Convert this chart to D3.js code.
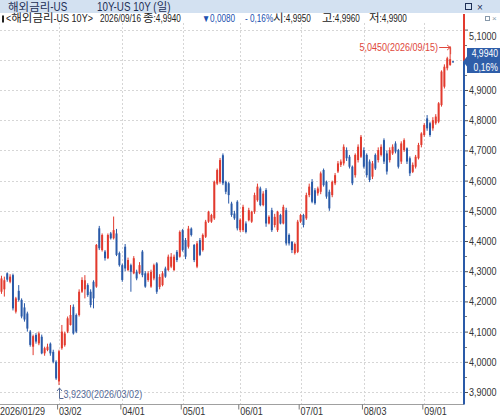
<!DOCTYPE html>
<html>
<head>
<meta charset="utf-8">
<script src="https://cdn.jsdelivr.net/npm/d3@7/dist/d3.min.js"></script>
<style>
  body { margin: 0; background: #fff; }
  svg text { font-family: "Liberation Sans", "Noto Sans CJK KR", sans-serif; }
</style>
</head>
<body>
<svg id="chart"></svg>
<script>
// ########## Data ##########

startDate = "2026-01-29";
endDate = "2026-09-16";
holidays = ["2026-02-16", "2026-04-03", "2026-05-25", "2026-06-19", "2026-07-03", "2026-09-07"];

tickDates = ["2026-03-02", "2026-04-01", "2026-05-01", "2026-06-01", "2026-07-01", "2026-08-03", "2026-09-01"];
tickLabels = ["03/02", "04/01", "05/01", "06/01", "07/01", "08/03", "09/01"];
firstLabel = "2026/01/29";

yTicks = [3.9, 4.0, 4.1, 4.2, 4.3, 4.4, 4.5, 4.6, 4.7, 4.8, 4.9, 5.0, 5.1];

opens = [
  4.24, 4.232, 4.24, 4.293, 4.265, 4.287, 4.166, 4.235, 4.205, 4.18,
  4.16, 4.10, 4.05, 4.089, 4.061, 4.083, 4.028, 4.039, 4.06, 4.033,
  4.00, 3.935, 4.045, 4.055, 4.10, 4.122, 4.182, 4.155, 4.155, 4.232,
  4.24, 4.254, 4.232, 4.265, 4.249, 4.442, 4.37, 4.365, 4.343, 4.425,
  4.409, 4.425, 4.36, 4.32, 4.381, 4.304, 4.32, 4.293, 4.298, 4.293,
  4.365, 4.293, 4.271, 4.249, 4.276, 4.326, 4.248, 4.254, 4.309, 4.304,
  4.315, 4.304, 4.364, 4.348, 4.436, 4.403, 4.381, 4.441, 4.387, 4.315,
  4.403, 4.37, 4.414, 4.464, 4.464, 4.475, 4.59, 4.596, 4.684, 4.596,
  4.591, 4.524, 4.491, 4.53, 4.436, 4.436, 4.458, 4.469, 4.464, 4.497,
  4.535, 4.574, 4.519, 4.569, 4.458, 4.502, 4.453, 4.436, 4.486, 4.458,
  4.502, 4.42, 4.397, 4.36, 4.364, 4.464, 4.486, 4.475, 4.552, 4.596,
  4.568, 4.558, 4.563, 4.635, 4.596, 4.563, 4.552, 4.591, 4.63, 4.652,
  4.657, 4.701, 4.679, 4.646, 4.618, 4.668, 4.679, 4.701, 4.685, 4.663,
  4.613, 4.685, 4.668, 4.685, 4.734, 4.69, 4.668, 4.69, 4.723, 4.701,
  4.663, 4.701, 4.707, 4.674, 4.629, 4.646, 4.674, 4.718, 4.751, 4.806,
  4.79, 4.773, 4.79, 4.795, 4.85, 4.911, 4.972, 4.983, 4.995
];

highs = [
  4.28, 4.285, 4.282, 4.296, 4.29, 4.292, 4.215, 4.254, 4.21, 4.194,
  4.166, 4.105, 4.09, 4.095, 4.10, 4.09, 4.05, 4.06, 4.064, 4.04,
  4.005, 4.04, 4.122, 4.10, 4.15, 4.188, 4.19, 4.16, 4.24, 4.28,
  4.287, 4.26, 4.24, 4.27, 4.39, 4.45, 4.425, 4.37, 4.425, 4.43,
  4.481, 4.44, 4.365, 4.325, 4.39, 4.345, 4.325, 4.35, 4.305, 4.33,
  4.37, 4.30, 4.30, 4.305, 4.325, 4.33, 4.29, 4.30, 4.315, 4.355,
  4.36, 4.355, 4.37, 4.435, 4.44, 4.41, 4.45, 4.445, 4.39, 4.40,
  4.41, 4.425, 4.47, 4.50, 4.49, 4.60, 4.64, 4.675, 4.69, 4.60,
  4.595, 4.53, 4.50, 4.535, 4.475, 4.52, 4.465, 4.51, 4.50, 4.56,
  4.59, 4.58, 4.565, 4.575, 4.485, 4.51, 4.49, 4.50, 4.49, 4.52,
  4.51, 4.425, 4.40, 4.395, 4.47, 4.49, 4.49, 4.56, 4.59, 4.605,
  4.575, 4.58, 4.63, 4.64, 4.60, 4.57, 4.60, 4.625, 4.665, 4.67,
  4.72, 4.71, 4.685, 4.65, 4.69, 4.72, 4.751, 4.71, 4.69, 4.67,
  4.665, 4.69, 4.71, 4.72, 4.74, 4.70, 4.71, 4.72, 4.73, 4.705,
  4.73, 4.74, 4.71, 4.68, 4.66, 4.685, 4.725, 4.76, 4.79, 4.817,
  4.795, 4.81, 4.82, 4.86, 4.965, 4.985, 5.01, 5.045, 4.996
];

lows = [
  4.235, 4.225, 4.216, 4.265, 4.26, 4.17, 4.16, 4.199, 4.144, 4.133,
  4.10, 4.05, 4.022, 4.06, 4.055, 4.025, 4.02, 4.035, 4.02, 3.995,
  3.94, 3.923, 4.04, 4.05, 4.095, 4.12, 4.09, 4.095, 4.15, 4.228,
  4.21, 4.215, 4.18, 4.177, 4.245, 4.37, 4.365, 4.335, 4.34, 4.405,
  4.405, 4.35, 4.315, 4.265, 4.30, 4.30, 4.232, 4.29, 4.27, 4.29,
  4.28, 4.245, 4.265, 4.245, 4.27, 4.225, 4.24, 4.25, 4.278, 4.30,
  4.31, 4.30, 4.33, 4.345, 4.365, 4.34, 4.375, 4.415, 4.33, 4.31,
  4.35, 4.365, 4.41, 4.46, 4.46, 4.47, 4.585, 4.59, 4.585, 4.555,
  4.524, 4.48, 4.47, 4.435, 4.43, 4.43, 4.425, 4.465, 4.46, 4.49,
  4.53, 4.515, 4.515, 4.447, 4.455, 4.43, 4.445, 4.43, 4.455, 4.455,
  4.385, 4.385, 4.36, 4.355, 4.36, 4.46, 4.445, 4.47, 4.545, 4.525,
  4.52, 4.55, 4.555, 4.58, 4.54, 4.50, 4.545, 4.585, 4.625, 4.645,
  4.65, 4.665, 4.64, 4.585, 4.61, 4.66, 4.675, 4.64, 4.61, 4.595,
  4.605, 4.635, 4.66, 4.68, 4.655, 4.62, 4.66, 4.685, 4.69, 4.64,
  4.655, 4.695, 4.655, 4.615, 4.625, 4.64, 4.67, 4.71, 4.745, 4.765,
  4.745, 4.765, 4.785, 4.79, 4.845, 4.905, 4.965, 4.98, 4.990
];

closes = [
  4.27, 4.276, 4.27, 4.272, 4.282, 4.177, 4.21, 4.205, 4.15, 4.14,
  4.11, 4.056, 4.085, 4.067, 4.094, 4.028, 4.045, 4.05, 4.028, 4.00,
  3.945, 4.035, 4.10, 4.094, 4.144, 4.155, 4.094, 4.10, 4.232, 4.271,
  4.27, 4.221, 4.188, 4.21, 4.387, 4.376, 4.42, 4.343, 4.42, 4.409,
  4.436, 4.354, 4.32, 4.271, 4.309, 4.337, 4.298, 4.343, 4.276, 4.32,
  4.287, 4.249, 4.293, 4.298, 4.32, 4.232, 4.281, 4.293, 4.282, 4.348,
  4.348, 4.348, 4.337, 4.43, 4.37, 4.348, 4.441, 4.42, 4.337, 4.392,
  4.354, 4.42, 4.464, 4.497, 4.486, 4.596, 4.635, 4.668, 4.591, 4.563,
  4.552, 4.486, 4.475, 4.442, 4.47, 4.513, 4.43, 4.502, 4.497, 4.552,
  4.58, 4.519, 4.557, 4.458, 4.48, 4.436, 4.48, 4.497, 4.458, 4.513,
  4.392, 4.392, 4.37, 4.39, 4.464, 4.486, 4.453, 4.552, 4.58, 4.53,
  4.525, 4.574, 4.624, 4.585, 4.547, 4.508, 4.596, 4.618, 4.657, 4.663,
  4.712, 4.674, 4.646, 4.591, 4.685, 4.712, 4.745, 4.646, 4.618, 4.602,
  4.657, 4.64, 4.701, 4.712, 4.663, 4.63, 4.701, 4.712, 4.696, 4.646,
  4.723, 4.734, 4.663, 4.624, 4.652, 4.679, 4.718, 4.756, 4.784, 4.773,
  4.751, 4.80, 4.812, 4.856, 4.961, 4.977, 5.005, 5.002, 4.994
];

// ########## Trading days (weekdays without US bond holidays) ##########
dates = [];
(function () {
    var parse = d3.utcParse("%Y-%m-%d"), fmtD = d3.utcFormat("%Y-%m-%d");
    var d = parse(startDate), end = parse(endDate);
    while (d <= end) {
        var s = fmtD(d), wd = d.getUTCDay();
        if (wd !== 0 && wd !== 6 && holidays.indexOf(s) < 0) dates.push(s);
        d = d3.utcDay.offset(d, 1);
    }
})();

candles = dates.map(function (d, i) {
    return { date: d, open: opens[i], high: highs[i], low: lows[i], close: closes[i] };
});

w = 500;
h = 420;

upColor = "#e23a2e";
downColor = "#2a5aa8";
axisX = 464;
plotTop = 23;
plotBottom = 404.5;
boxTop = 48;
boxBottom = 73;
K = 0.82;   // horizontal squeeze, the HTS font is narrow

fmtPrice = function (v) { return d3.format(".4f")(v).replace(".", ","); };

// squeeze text horizontally while keeping its anchor x
function narrow(sel, k) {
    sel.each(function () {
        var t = d3.select(this);
        t.attr("x", (+t.attr("x") || 0) / k).attr("transform", "scale(" + k + ",1)");
    });
}

// ########## SVG ##########
svg = d3.select("#chart")
    .attr("width", w)
    .attr("height", h);

svg.append("rect").attr("width", w).attr("height", h).attr("fill", "#fff");

// text made of runs: hangul runs kept, latin runs squeezed
function richText(x0, yb, str, lSize, kSize, color) {
    var cx = x0;
    str.match(/[\uac00-\ud7a3]+|[^\uac00-\ud7a3]+/g).forEach(function (run) {
        var isK = /[\uac00-\ud7a3]/.test(run);
        var t = svg.append("text")
            .attr("x", cx).attr("y", yb)
            .attr("font-size", (isK ? kSize : lSize) + "px")
            .attr("fill", color)
            .style("white-space", "pre")
            .text(run);
        var tw = t.node().getComputedTextLength();
        if (!isK) { t.call(narrow, K); tw *= K; }
        cx += tw;
    });
    return cx;
}

// ########## Scales ##########
step = 2.876;
x = d3.scaleBand()
    .domain(dates)
    .range([-2.84, -2.84 + dates.length * step]);

y = d3.scaleLinear()
    .domain([3.9, 5.1])
    .range([392, 29.6]);

xc = function (d) { return x(d) + x.bandwidth() / 2; };

// ########## Grid ##########
grid = svg.append("g").attr("stroke", "#d6d6d6").attr("stroke-dasharray", "2,2").attr("stroke-width", 1);

grid.selectAll("line.h").data(yTicks).enter().append("line")
    .attr("x1", 0).attr("x2", axisX)
    .attr("y1", function (d) { return Math.round(y(d)) + 0.5; })
    .attr("y2", function (d) { return Math.round(y(d)) + 0.5; });

grid.selectAll("line.v").data(tickDates).enter().append("line")
    .attr("x1", function (d) { return Math.round(xc(d)) + 0.5; })
    .attr("x2", function (d) { return Math.round(xc(d)) + 0.5; })
    .attr("y1", plotTop).attr("y2", plotBottom);

// ########## Candles ##########
candleGroup = svg.append("g");

candle = candleGroup.selectAll("g")
    .data(candles)
    .enter().append("g")
    .attr("fill", function (d) { return d.close >= d.open ? upColor : downColor; })
    .attr("stroke", function (d) { return d.close >= d.open ? upColor : downColor; });

candle.append("line")
    .attr("x1", function (d) { return xc(d.date); })
    .attr("x2", function (d) { return xc(d.date); })
    .attr("y1", function (d) { return y(d.high); })
    .attr("y2", function (d) { return y(d.low); })
    .attr("stroke-width", 1);

candle.append("rect")
    .attr("stroke", "none")
    .attr("x", function (d) { return xc(d.date) - 1; })
    .attr("width", 2)
    .attr("y", function (d) { return y(Math.max(d.open, d.close)); })
    .attr("height", function (d) { return Math.max(1, Math.abs(y(d.open) - y(d.close))); });

// ########## X Axis ##########
svg.append("line")
    .attr("x1", 0).attr("x2", axisX)
    .attr("y1", plotBottom).attr("y2", plotBottom)
    .attr("stroke", "#a0a0a0");

xAxis = svg.append("g")
    .attr("transform", "translate(0," + plotBottom + ")")
    .call(d3.axisBottom(x)
        .tickValues(tickDates)
        .tickSize(5)
        .tickFormat(function (d, i) { return tickLabels[i]; }));

xAxis.select(".domain").remove();
xAxis.selectAll(".tick line").attr("stroke", "#777").attr("transform", "translate(-1.4,0)");
xAxis.selectAll(".tick text")
    .attr("fill", "#333")
    .attr("font-size", "11px")
    .attr("text-anchor", "start")
    .attr("x", 0)
    .attr("y", 3)
    .call(narrow, K);

svg.append("text")
    .attr("x", 0).attr("y", 415)
    .attr("font-size", "11px").attr("fill", "#333")
    .text(firstLabel)
    .call(narrow, K);

// ########## Y Axis ##########
last = candles[candles.length - 1];
prev = candles[candles.length - 2];

svg.append("line")
    .attr("x1", axisX).attr("x2", axisX)
    .attr("y1", 14).attr("y2", y(last.close))
    .attr("stroke", upColor).attr("stroke-width", 2);

svg.append("line")
    .attr("x1", axisX).attr("x2", axisX)
    .attr("y1", y(last.close)).attr("y2", plotBottom)
    .attr("stroke", downColor).attr("stroke-width", 2);

yAxis = svg.append("g")
    .attr("transform", "translate(" + (axisX + 1) + ",0)")
    .call(d3.axisRight(y)
        .tickValues(yTicks)
        .tickSize(3)
        .tickPadding(1)
        .tickFormat(fmtPrice));

yAxis.select(".domain").remove();
yAxis.selectAll(".tick line").attr("stroke", "#555");
yAxis.selectAll(".tick text")
    .attr("fill", "#333")
    .attr("font-size", "11px")
    .attr("dy", function (d) { return d === 5.1 ? "0.9em" : "0.32em"; })
    .call(narrow, K);

// labels that sit under the current price box are hidden, as in the HTS
yAxis.selectAll(".tick")
    .filter(function (d) { return y(d) > boxTop - 4 && y(d) < boxBottom + 4; })
    .remove();

minor = d3.range(3.95, 5.1, 0.1);
svg.append("g").selectAll("line").data(minor).enter().append("line")
    .attr("x1", axisX + 1).attr("x2", axisX + 3)
    .attr("y1", function (d) { return Math.round(y(d)) + 0.5; })
    .attr("y2", function (d) { return Math.round(y(d)) + 0.5; })
    .attr("stroke", "#777");

// ########## Current price box ##########
cy = y(last.close);
change = last.close - prev.close;
pct = change / prev.close * 100;
pctText = d3.format(".2f")(Math.abs(pct)).replace(".", ",") + "%";

svg.append("path")
    .attr("d", "M" + (axisX - 1) + "," + cy + " L" + (axisX + 3) + "," + (cy - 5) + " L" + (axisX + 3) + "," + boxTop + " L500," + boxTop + " L500," + boxBottom + " L" + (axisX + 3) + "," + boxBottom + " L" + (axisX + 3) + "," + (cy + 5) + " Z")
    .attr("fill", "#2f5ea9");

svg.append("text")
    .attr("x", 498).attr("y", 57.5)
    .attr("text-anchor", "end").attr("font-size", "10.5px").attr("fill", "#fff")
    .text(fmtPrice(last.close))
    .call(narrow, K);

svg.append("text")
    .attr("x", 498).attr("y", 71)
    .attr("text-anchor", "end").attr("font-size", "10.5px").attr("fill", "#fff")
    .text(pctText)
    .call(narrow, K);

// ########## High / Low annotations ##########
hiIdx = d3.maxIndex(candles, function (d) { return d.high; });
loIdx = d3.minIndex(candles, function (d) { return d.low; });
hi = candles[hiIdx];
lo = candles[loIdx];
dateLabel = function (s) { return s.replace(/-/g, "/"); };

hx = xc(hi.date);
svg.append("text")
    .attr("x", hx - 12).attr("y", 51)
    .attr("text-anchor", "end").attr("font-size", "11px").attr("fill", "#e0473b")
    .text(fmtPrice(hi.high) + "(" + dateLabel(hi.date) + ")")
    .call(narrow, K);

svg.append("path")
    .attr("d", "M" + (hx - 11) + ",47.5 L" + (hx + 0.5) + ",47.5 L" + (hx + 0.5) + "," + (y(hi.high) + 8))
    .attr("fill", "none").attr("stroke", "#e0473b");
svg.append("path")
    .attr("d", "M" + (hx - 3) + ",45 L" + (hx) + ",47.5 L" + (hx - 3) + ",50")
    .attr("fill", "none").attr("stroke", "#e0473b");

lx = Math.round(xc(lo.date)) + 0.5;
svg.append("path")
    .attr("d", "M" + lx + "," + (y(lo.low) + 3) + " L" + lx + ",398.5 L" + (lx + 4) + ",398.5")
    .attr("fill", "none").attr("stroke", "#566a96");
svg.append("path")
    .attr("d", "M" + (lx - 2.5) + "," + (y(lo.low) + 6) + " L" + lx + "," + (y(lo.low) + 3) + " L" + (lx + 2.5) + "," + (y(lo.low) + 6))
    .attr("fill", "none").attr("stroke", "#566a96");
svg.append("text")
    .attr("x", lx + 4).attr("y", 398)
    .attr("font-size", "11px").attr("fill", "#566a96")
    .text(fmtPrice(lo.low) + "(" + dateLabel(lo.date) + ")")
    .call(narrow, K);

// ########## Title bar ##########
svg.append("rect").attr("x", 0).attr("y", 0).attr("width", w).attr("height", 13).attr("fill", "#d3e1f1");
richText(8, 10.5, "해외금리-US", 12, 11.5, "#1d2f55");
richText(97, 10.5, "10Y-US 10Y (일)", 12, 11.5, "#1d2f55");
svg.append("rect").attr("x", 465.5).attr("y", 3.5).attr("width", 6).attr("height", 6).attr("fill", "none").attr("stroke", "#1d2f55");
svg.append("text").attr("x", 477).attr("y", 10.5).attr("font-size", "10px").attr("fill", "#1d2f55").text("×");
svg.append("rect").attr("x", 485.5).attr("y", 16.5).attr("width", 4).attr("height", 4).attr("fill", "none").attr("stroke", "#8899aa");
svg.append("text").attr("x", 492).attr("y", 21).attr("font-size", "8px").attr("fill", "#8899aa").text("×");

// ########## Info line ##########
svg.append("rect").attr("x", 2).attr("y", 15.5).attr("width", 2).attr("height", 7).attr("fill", "#222");
infoY = 22;
richText(6, infoY, "<해외금리-US 10Y>", 11, 11.5, "#222");
richText(100, infoY, dateLabel(last.date), 10, 11.5, "#222");
richText(143, infoY, "종:" + fmtPrice(last.close), 10, 11.5, "#222");
richText(202, infoY, (change < 0 ? "▼" : "▲") + fmtPrice(Math.abs(change)), 10, 11.5, "#2050b0");
richText(245, infoY, (pct < 0 ? "- " : "") + pctText, 10, 11.5, "#2050b0");
richText(273, infoY, "시:" + fmtPrice(last.open), 10, 11.5, "#222");
richText(322, infoY, "고:" + fmtPrice(last.high), 10, 11.5, "#222");
richText(369, infoY, "저:" + fmtPrice(last.low), 10, 11.5, "#222");
</script>
</body>
</html>
